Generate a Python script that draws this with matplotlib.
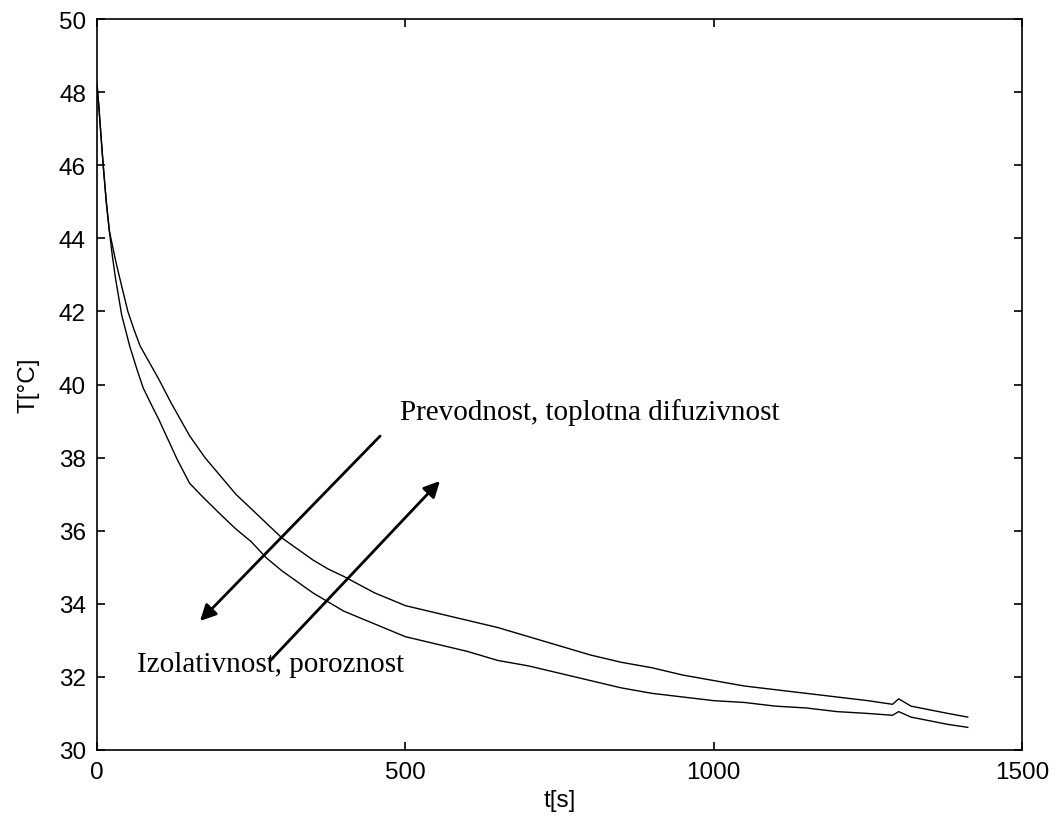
import matplotlib
matplotlib.use("Agg")
import matplotlib.pyplot as plt

# lower curve (drops faster)
t_low = [0, 3, 6, 10, 15, 20, 25, 30, 40, 53, 65, 75, 88, 100, 115, 130, 150, 170, 185, 200,
         225, 250, 275, 300, 325, 350, 375, 400, 450, 500, 550, 600, 650, 700, 750, 800,
         850, 900, 950, 1000, 1050, 1100, 1150, 1200, 1250, 1290, 1300, 1320, 1350, 1380, 1412]
T_low = [48.2, 47.6, 46.9, 46.0, 45.0, 44.2, 43.5, 42.9, 41.9, 41.05, 40.4, 39.9, 39.45, 39.05, 38.5, 37.95, 37.3, 36.95, 36.7, 36.45,
         36.05, 35.7, 35.25, 34.9, 34.6, 34.3, 34.05, 33.8, 33.45, 33.1, 32.9, 32.7, 32.45, 32.3, 32.1, 31.9,
         31.7, 31.55, 31.45, 31.35, 31.3, 31.2, 31.15, 31.05, 31.0, 30.95, 31.05, 30.9, 30.8, 30.7, 30.62]

# upper curve
t_up = [0, 3, 6, 10, 15, 20, 25, 30, 37, 50, 60, 70, 85, 100, 120, 150, 175, 200,
        225, 250, 275, 300, 325, 350, 375, 400, 450, 500, 550, 600, 650, 700, 750, 800,
        850, 900, 950, 1000, 1050, 1100, 1150, 1200, 1250, 1290, 1300, 1320, 1350, 1380, 1412]
T_up = [48.2, 47.6, 46.9, 46.0, 45.0, 44.2, 43.8, 43.4, 42.9, 42.0, 41.5, 41.05, 40.6, 40.15, 39.5, 38.6, 38.0, 37.5,
        37.0, 36.6, 36.2, 35.8, 35.5, 35.2, 34.95, 34.75, 34.3, 33.95, 33.75, 33.55, 33.35, 33.1, 32.85, 32.6,
        32.4, 32.25, 32.05, 31.9, 31.75, 31.65, 31.55, 31.45, 31.35, 31.25, 31.4, 31.2, 31.1, 31.0, 30.9]

plt.rcParams['font.family'] = ['Liberation Sans', 'DejaVu Sans']

fig = plt.figure(figsize=(10.57, 8.28), dpi=100)
ax = fig.add_axes([0.0918, 0.093, 0.8751, 0.8828])

ax.plot(t_low, T_low, color='k', lw=1)
ax.plot(t_up, T_up, color='k', lw=1)

ax.set_xlim(0, 1500)
ax.set_ylim(30, 50)
ax.set_xticks([0, 500, 1000, 1500])
ax.set_yticks(range(30, 51, 2))
ax.tick_params(direction='in', length=6, width=1.2, top=True, right=True, labelsize=17.5, pad=8)
for s in ax.spines.values():
    s.set_linewidth(1.2)
ax.set_xlabel("t[s]", fontsize=17.5, labelpad=4)
ax.set_ylabel("T[°C]", fontsize=17.5, labelpad=14)

arrow = dict(arrowstyle='-|>', lw=2, color='k', mutation_scale=24, shrinkA=0, shrinkB=0)
ax.annotate("", xy=(167, 33.53), xytext=(459, 38.59), arrowprops=arrow)
ax.annotate("", xy=(556, 37.36), xytext=(280, 32.43), arrowprops=arrow)

ax.text(491, 39.27, "Prevodnost, toplotna difuzivnost", family='Liberation Serif',
        fontsize=21, va='center', ha='left')
ax.text(65, 32.35, "Izolativnost, poroznost", family='Liberation Serif',
        fontsize=21, va='center', ha='left')

fig.savefig("out.png", dpi=100)
